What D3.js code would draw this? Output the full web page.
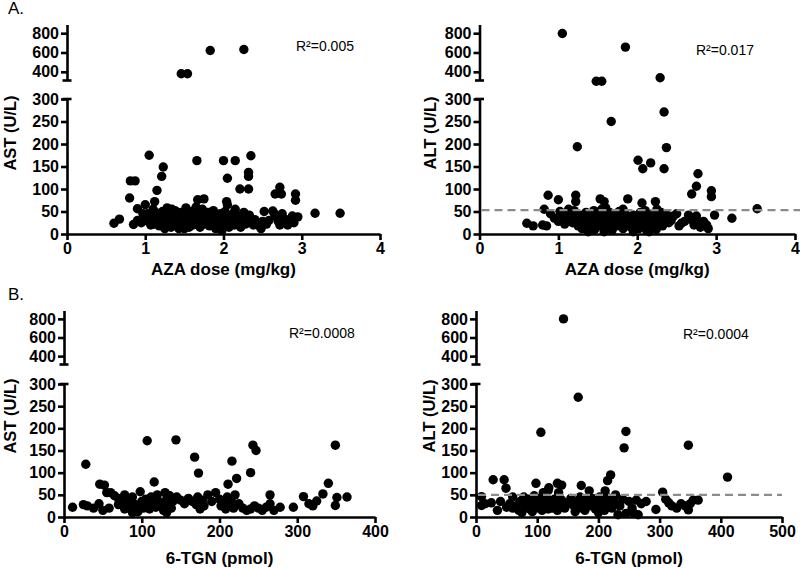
<!DOCTYPE html>
<html><head><meta charset="utf-8">
<script src="https://cdn.jsdelivr.net/npm/d3@7"></script>
<style>body{margin:0;background:#fff}svg{display:block}</style>
</head><body><svg id="c" width="800" height="568"></svg>
<script>
// ---- DATA ----
// AST (U/L) vs AZA dose (mg/kg)
const astVsDose = [
[1.46,380],[1.54,380],[1.83,621],[2.26,631],
[1.05,175],[1.66,163],[2.00,163],[2.15,163],[2.35,174],[1.23,149],[1.21,128],[0.81,118],[0.87,118],[2.05,124],[2.32,137],[2.32,128],[2.21,100],[2.32,100],[1.15,97],[0.80,80],[1.12,72],[2.72,104],[2.66,89],[2.74,89],[2.92,89],[2.92,75],[3.17,46],[3.49,46],[0.60,24],[0.67,33],[0.85,21],[0.90,56],[1.00,65],[1.67,76],[1.75,78],[2.04,72],[2.05,65],[2.52,50],[2.63,51],
[0.95,25],[1.00,30],[1.03,45],[1.05,38],[1.08,28],[1.10,55],[1.12,22],[1.15,35],[1.17,42],[1.18,18],[1.20,30],[1.22,50],[1.24,25],[1.25,12],[1.26,40],[1.28,58],[1.28,32],[1.30,20],[1.32,45],[1.33,15],[1.35,35],[1.36,28],[1.38,52],[1.40,22],[1.41,40],[1.43,12],[1.45,30],[1.46,48],[1.48,18],[1.50,36],[1.52,58],[1.53,25],[1.55,42],[1.56,15],[1.58,30],[1.60,50],[1.61,20],[1.63,38],[1.65,60],[1.66,27],[1.68,45],[1.70,15],[1.72,33],[1.73,55],[1.75,22],[1.77,40],[1.78,30],[1.80,48],[1.82,18],[1.84,35],[1.86,25],[1.88,42],[1.90,12],[1.92,30],[1.94,20],[1.96,45],[1.98,8],[2.00,35],[2.02,50],[2.03,22],[2.05,40],[2.07,15],[2.10,30],[2.12,45],[2.14,20],[2.16,35],[2.18,25],[2.20,40],[2.22,15],[2.24,30],[2.26,48],[2.28,22],[2.30,35],[2.33,42],[2.35,28],[2.38,20],[2.40,32],[2.43,25],[2.46,18],[2.48,12],[2.50,28],[2.55,22],[2.58,30],[2.65,45],[2.68,38],[2.70,28],[2.72,20],[2.75,45],[2.78,25],[2.80,32],[2.82,20],[2.85,28],[2.88,40],[2.90,25],[2.95,38],[1.13,48],[1.27,20],[1.34,55],[1.42,28],[1.50,12],[1.57,48],[1.62,32],[1.69,22],[1.74,40],[1.81,26],[1.87,52],[1.93,38],[1.99,25],[2.08,32],[2.15,55],[0.90,30],[0.97,45],[1.07,20]
];
// ALT (U/L) vs AZA dose (mg/kg)
const altVsDose = [
[1.05,797],[1.85,656],[1.48,302],[1.55,302],[2.29,338],
[2.34,271],[1.67,250],[1.24,194],[2.37,192],[2.01,164],[2.07,145],[2.17,158],[2.34,145],[2.77,134],[2.75,106],[2.69,89],[2.94,96],[2.94,83],[0.87,86],[1.00,76],[1.22,86],[1.22,72],[1.53,78],[1.58,72],[1.88,78],[2.06,69],[2.23,72],[3.20,35],[3.52,56],[0.60,24],[0.68,18],[0.80,20],[0.85,18],[0.82,55],[2.98,42],[2.53,18],[2.56,24],
[0.90,45],[0.95,35],[1.00,28],[1.02,50],[1.05,38],[1.08,22],[1.10,45],[1.12,30],[1.15,40],[1.18,25],[1.20,52],[1.22,35],[1.25,18],[1.27,42],[1.28,28],[1.30,12],[1.32,38],[1.34,22],[1.35,48],[1.37,30],[1.39,15],[1.40,42],[1.42,25],[1.44,35],[1.46,10],[1.48,45],[1.50,28],[1.52,18],[1.54,38],[1.55,55],[1.57,25],[1.58,12],[1.60,42],[1.62,30],[1.63,20],[1.65,48],[1.67,35],[1.68,8],[1.70,25],[1.72,42],[1.74,18],[1.75,32],[1.77,50],[1.78,22],[1.80,38],[1.82,12],[1.84,28],[1.85,45],[1.87,20],[1.90,35],[1.92,15],[1.95,42],[1.97,25],[2.00,38],[2.02,12],[2.04,48],[2.06,28],[2.08,20],[2.10,35],[2.12,8],[2.14,42],[2.15,25],[2.17,15],[2.19,32],[2.20,45],[2.22,20],[2.24,10],[2.26,38],[2.28,28],[2.30,48],[2.32,18],[2.35,35],[2.38,42],[2.40,25],[2.43,30],[2.46,40],[2.50,45],[2.60,28],[2.65,42],[2.70,30],[2.72,20],[2.75,40],[2.78,25],[2.80,15],[2.84,28],[2.88,20],[2.90,12],[1.13,55],[1.45,52],[1.60,58],[1.82,55],[2.10,52],[2.25,55],[1.38,5],[1.58,5],[1.95,5],[2.15,5]
];
// AST (U/L) vs 6-TGN (pmol)
const astVsTgn = [
[107,172],[144,174],[243,162],[247,150],[349,162],[168,135],[216,126],[28,119],[173,99],[240,100],[222,87],[211,74],[340,76],[116,79],[46,74],[52,72],[55,55],[98,57],[11,22],[295,22],[308,46],[325,36],[333,52],[351,44],[364,45],[349,26],[265,50],
[25,28],[30,25],[38,20],[45,30],[50,15],[60,55],[65,48],[70,42],[72,35],[75,30],[78,50],[80,25],[82,38],[85,20],[88,45],[90,30],[92,15],[95,25],[100,35],[102,20],[105,40],[108,28],[110,18],[112,45],[115,30],[118,22],[120,50],[122,35],[125,25],[128,15],[130,55],[132,40],[134,30],[136,48],[138,20],[140,35],[145,45],[150,38],[155,30],[160,42],[165,35],[170,28],[172,45],[175,18],[178,38],[180,25],[185,50],[190,35],[195,55],[200,40],[202,25],[205,32],[208,18],[210,45],[212,28],[215,38],[218,20],[220,50],[225,30],[230,20],[235,15],[240,18],[245,25],[250,20],[255,15],[260,22],[265,30],[270,15],[278,22],[88,10],[95,12],[132,10],[70,28],[78,18],[100,25],[118,38],[58,20],[315,30],[320,25]
];
// ALT (U/L) vs 6-TGN (pmol)
const altVsTgn = [
[143,800],[167,270],
[106,191],[245,193],[242,156],[347,162],[411,90],[28,84],[46,84],[49,65],[98,76],[133,76],[140,72],[119,66],[172,71],[185,59],[215,82],[220,95],[211,59],[305,56],[9,46],[9,26],[294,17],[347,16],[363,38],
[15,30],[25,32],[35,15],[40,35],[50,22],[55,30],[60,20],[65,25],[70,15],[72,35],[75,10],[78,45],[80,25],[85,40],[88,18],[90,30],[92,12],[95,48],[98,28],[100,35],[102,20],[105,42],[108,15],[110,30],[112,25],[115,45],[118,18],[120,35],[122,28],[125,20],[128,40],[130,32],[133,15],[135,48],[138,25],[140,38],[145,20],[150,30],[155,42],[160,25],[162,12],[165,35],[168,20],[170,45],[175,30],[178,15],[180,38],[185,25],[190,42],[195,18],[198,30],[200,10],[202,45],[205,25],[208,35],[210,15],[212,48],[215,28],[218,38],[222,20],[225,42],[228,30],[232,5],[235,25],[240,40],[245,8],[250,35],[255,20],[258,8],[262,38],[265,5],[270,30],[278,35],[310,40],[315,32],[320,25],[328,20],[335,30],[342,25],[350,30],[355,38],[60,45],[135,55],[118,60],[228,50],[110,55]
];
const doseTicks = [0,1,2,3,4];
const tgnTicksAst = [0,100,200,300,400];
const tgnTicksAlt = [0,100,200,300,400,500];
const lowTicks = [0,50,100,150,200,250,300];
const highTicks = [400,600,800];
const r2Labels = ["R²=0.005","R²=0.017","R²=0.0008","R²=0.0004"];
const altLimitDose = 53;
const altLimitTgn = 50;

// ---- DRAW ----
const svg = d3.select("#c");
const FONT = "'Liberation Sans', Arial, Helvetica, sans-serif";
const SW = 2.6;

const panels = [
 {data:astVsDose, xDomain:[0,4], xTicks:doseTicks, xRange:[67,380], low:[234,99], high:[80.5,24.5],
  ylab:"AST (U/L)", ylabX:16, ylabY:133, xlab:"AZA dose (mg/kg)", xlabY:275, r2:r2Labels[0], r2x:296, r2y:51, limit:null},
 {data:altVsDose, xDomain:[0,4], xTicks:doseTicks, xRange:[479.5,795], low:[234,99], high:[80.5,24.5],
  ylab:"ALT (U/L)", ylabX:436, ylabY:133, xlab:"AZA dose (mg/kg)", xlabY:275, r2:r2Labels[1], r2x:696, r2y:55, limit:altLimitDose, limitEnd:800},
 {data:astVsTgn, xDomain:[0,400], xTicks:tgnTicksAst, xRange:[64,375], low:[517,384], high:[364.5,310.5],
  ylab:"AST (U/L)", ylabX:16, ylabY:416, xlab:"6-TGN (pmol)", xlabY:564, r2:r2Labels[2], r2x:289, r2y:338, limit:null},
 {data:altVsTgn, xDomain:[0,500], xTicks:tgnTicksAlt, xRange:[476,782], low:[517,384], high:[364.5,310.5],
  ylab:"ALT (U/L)", ylabX:435, ylabY:416, xlab:"6-TGN (pmol)", xlabY:564, r2:r2Labels[3], r2x:683, r2y:339, limit:altLimitTgn, limitEnd:782}
];

function styleAxis(sel){
  sel.select(".domain").attr("stroke","#000").attr("stroke-width",SW);
  sel.selectAll(".tick line").attr("stroke","#000").attr("stroke-width",SW);
  sel.selectAll(".tick text").attr("fill","#000").style("font-family",FONT).style("font-weight","bold").style("font-size","16px");
}

panels.forEach(p=>{
  const g = svg.append("g");
  const x = d3.scaleLinear().domain(p.xDomain).range(p.xRange);
  const yLow = d3.scaleLinear().domain([0,300]).range(p.low);
  const yHigh = d3.scaleLinear().domain([310,890]).range(p.high);
  const ax = p.xRange[0];

  g.append("g").attr("transform",`translate(0,${p.low[0]})`)
   .call(d3.axisBottom(x).tickValues(p.xTicks).tickSize(6).tickSizeOuter(0).tickPadding(3).tickFormat(d3.format("d")))
   .call(styleAxis);
  g.append("g").attr("transform",`translate(${ax},0)`)
   .call(d3.axisLeft(yLow).tickValues(lowTicks).tickSize(6).tickSizeOuter(0).tickPadding(2))
   .call(styleAxis);
  g.append("g").attr("transform",`translate(${ax},0)`)
   .call(d3.axisLeft(yHigh).tickValues(highTicks).tickSize(6).tickSizeOuter(0).tickPadding(2))
   .call(styleAxis);
  [yLow(300), yHigh(310)].forEach(yy=>{
    g.append("line").attr("x1",ax-4.5).attr("x2",ax+4.5).attr("y1",yy).attr("y2",yy)
     .attr("stroke","#000").attr("stroke-width",SW);
  });

  g.append("g").selectAll("circle").data(p.data).join("circle")
   .attr("cx",d=>x(d[0]))
   .attr("cy",d=>d[1]>300 ? yHigh(d[1]) : yLow(d[1]))
   .attr("r",4.7).attr("fill","#000");

  if(p.limit!==null){
    g.append("line").attr("x1",ax+2).attr("x2",p.limitEnd)
     .attr("y1",yLow(p.limit)).attr("y2",yLow(p.limit))
     .attr("stroke","#8c8c8c").attr("stroke-width",2.4).attr("stroke-dasharray","8,5");
  }

  g.append("text").attr("transform",`translate(${p.ylabX},${p.ylabY}) rotate(-90)`)
   .attr("text-anchor","middle").style("font-family",FONT).style("font-weight","bold").style("font-size","16.5px")
   .text(p.ylab);
  g.append("text").attr("x",(p.xRange[0]+p.xRange[1])/2).attr("y",p.xlabY)
   .attr("text-anchor","middle").style("font-family",FONT).style("font-weight","bold").style("font-size","17px")
   .text(p.xlab);
  g.append("text").attr("x",p.r2x).attr("y",p.r2y)
   .style("font-family",FONT).style("font-size","14px").text(p.r2);
});

svg.append("text").attr("x",8).attr("y",14).style("font-family",FONT).style("font-size","17px").text("A.");
svg.append("text").attr("x",8).attr("y",300).style("font-family",FONT).style("font-size","17px").text("B.");
</script>
</body></html>
